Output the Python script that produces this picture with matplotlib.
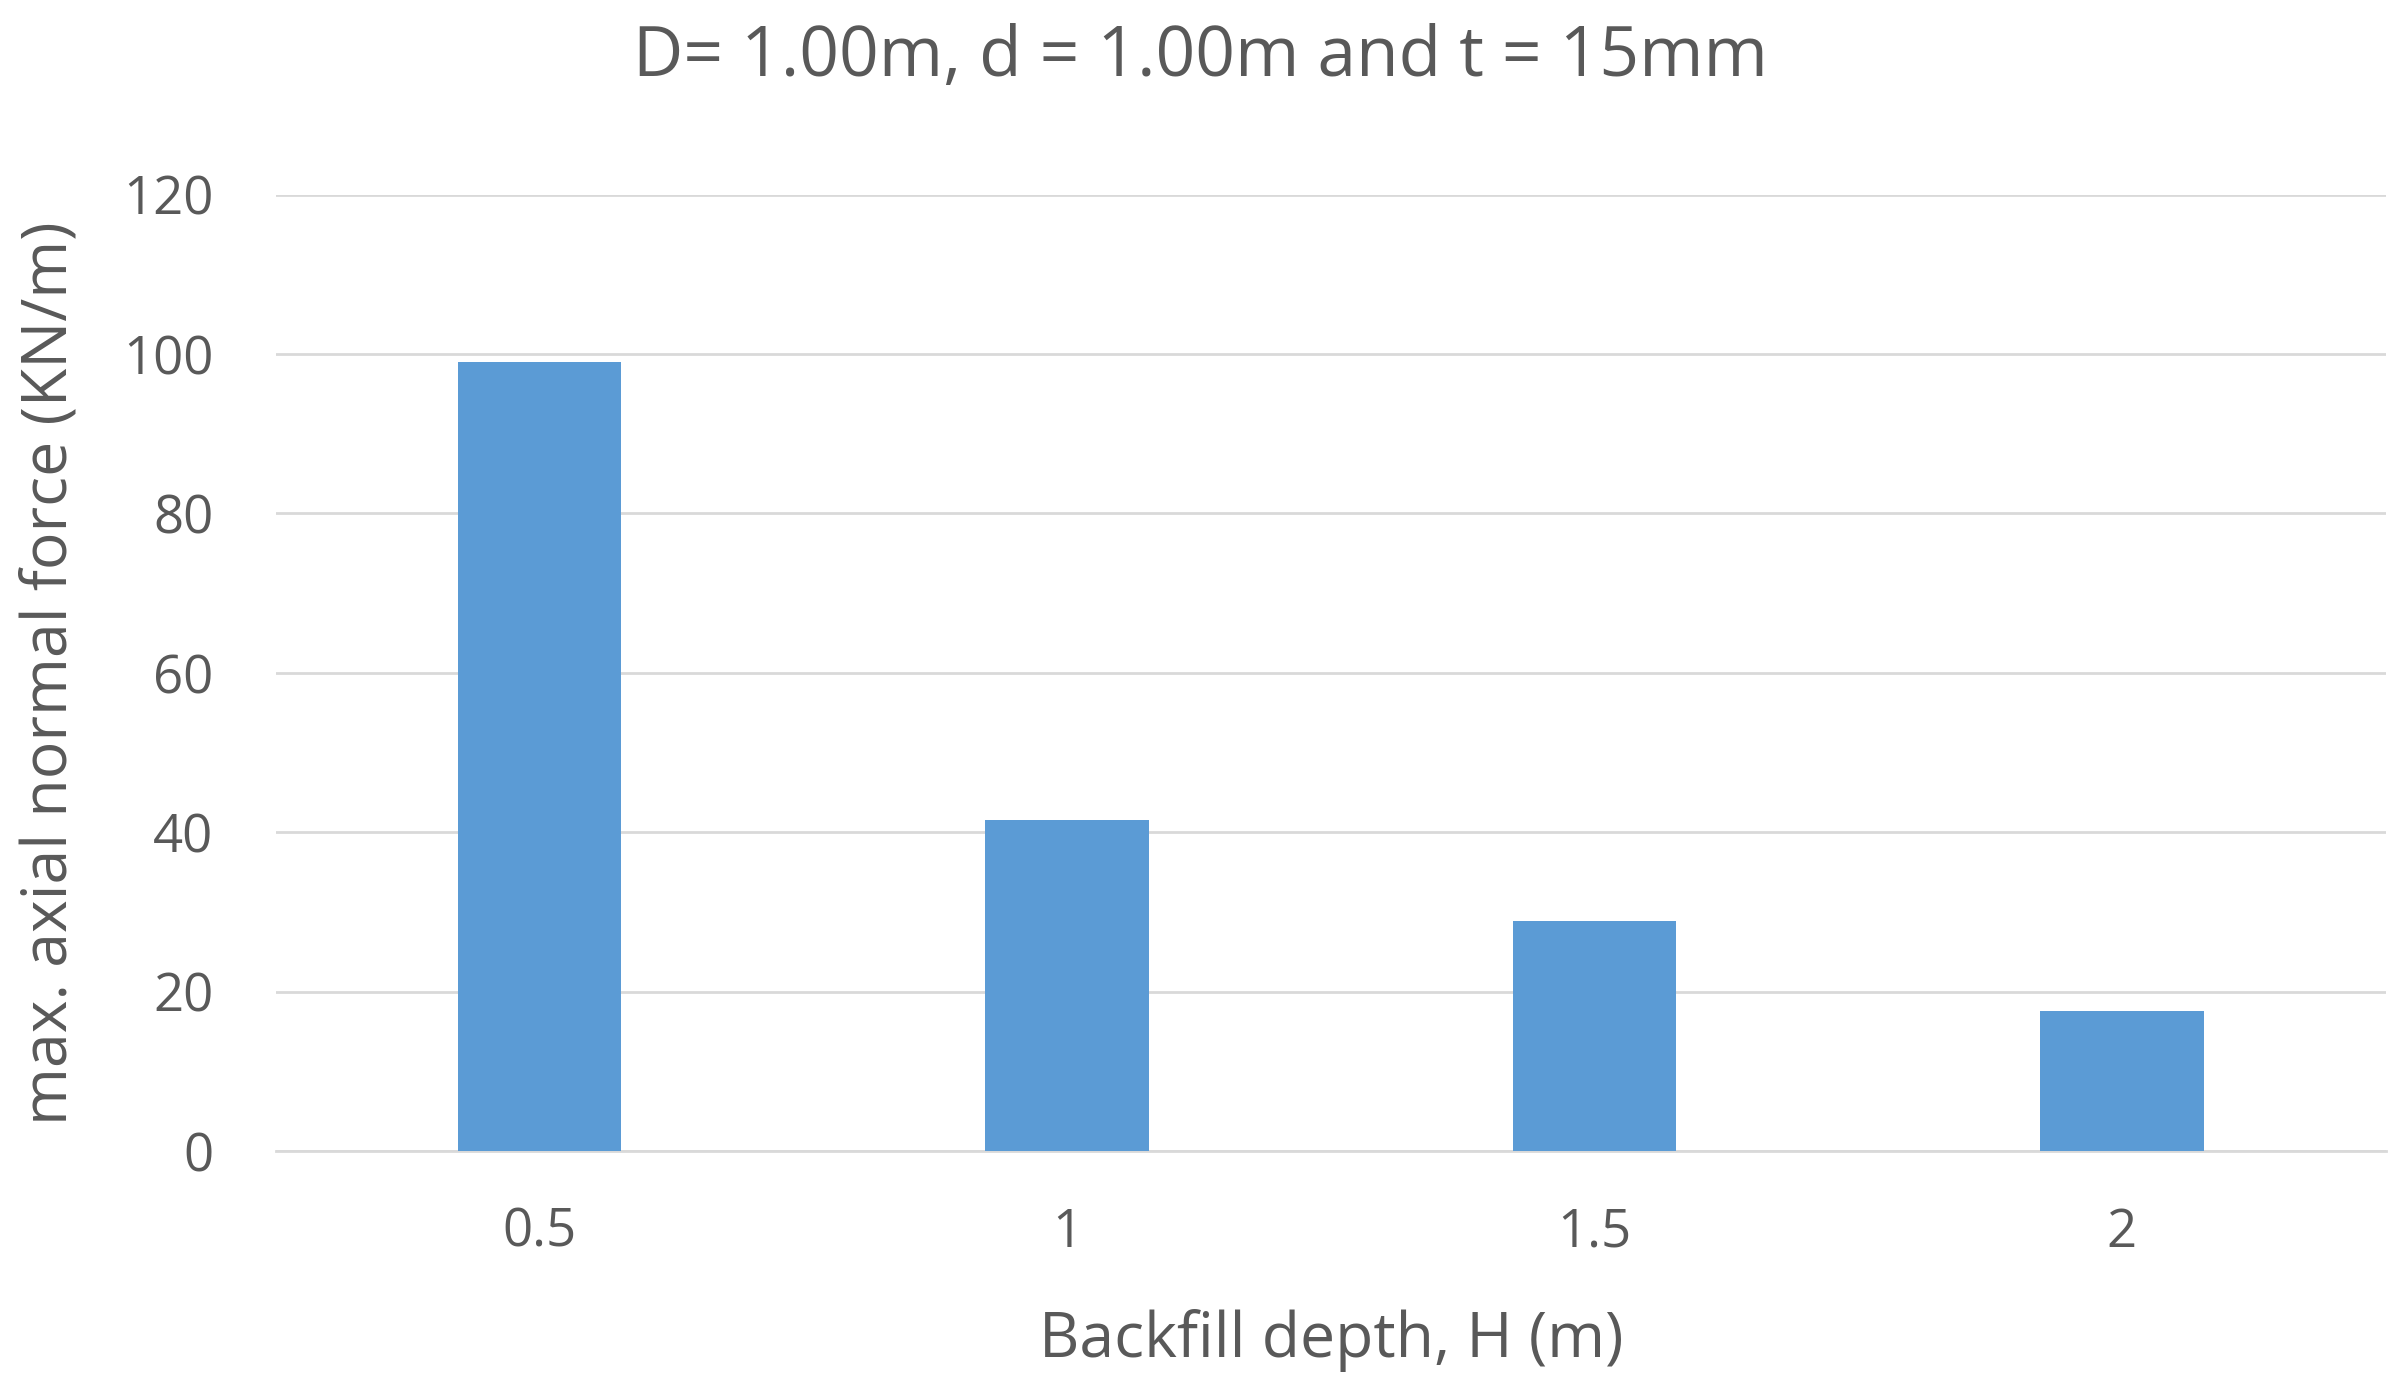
import matplotlib.pyplot as plt

categories = ["0.5", "1", "1.5", "2"]
values = [99, 41.5, 28.8, 17.5]

plt.rcParams['font.family'] = ['Open Sans', 'DejaVu Sans']
txt = '#595959'

fig = plt.figure(figsize=(24, 13.9), dpi=100)
ax = fig.add_axes([0.115, 0.172, 0.879, 0.688])

x = range(len(categories))
ax.bar(x, values, width=0.31, color='#5b9bd5', zorder=3)
ax.set_xlim(-0.5, len(categories) - 0.5)
ax.set_ylim(0, 120)
ax.set_yticks(range(0, 121, 20))
ax.set_xticks(list(x))
ax.set_xticklabels(categories)
ax.grid(axis='y', color='#d9d9d9', linewidth=2, zorder=0)
for s in ['top', 'right', 'left']:
    ax.spines[s].set_visible(False)
ax.spines['bottom'].set_color('#d9d9d9')
ax.spines['bottom'].set_linewidth(2)
ax.tick_params(axis='both', length=0, labelsize=38, labelcolor=txt)
ax.tick_params(axis='x', pad=40)
ax.tick_params(axis='y', pad=45)

ax.set_xlabel("Backfill depth, H (m)", fontsize=45, color=txt, labelpad=35)
ax.set_ylabel("max. axial normal force (KN/m)", fontsize=45, color=txt, labelpad=30)
fig.text(0.5, 0.958, "D= 1.00m, d = 1.00m and t = 15mm", ha='center', va='center',
         fontsize=50, color=txt)

fig.savefig("out.png")
